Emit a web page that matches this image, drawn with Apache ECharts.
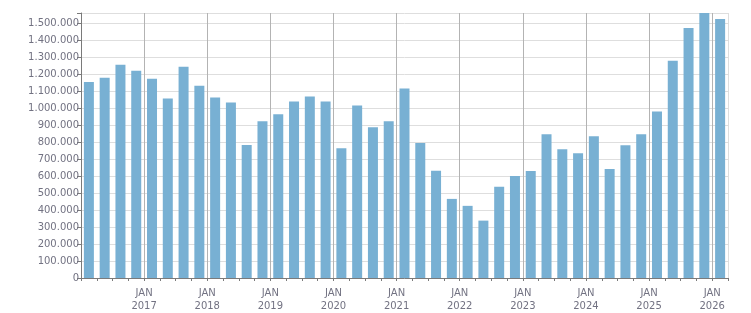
<!DOCTYPE html>
<html>
<head>
<meta charset="utf-8">
<title></title>
<script src="https://cdn.jsdelivr.net/npm/echarts@6/dist/echarts.min.js"></script>
<style>
	html, body { margin: 0; padding: 0; background: #fff; }
	#chart { width: 751px; height: 313px; }
</style>
</head>
<body>
<div id="chart"></div>
<script type="text/javascript">
	// quarters, 2016 Q1 .. 2026 Q1
	var quarters = [
		'2016Q1','2016Q2','2016Q3','2016Q4',
		'2017Q1','2017Q2','2017Q3','2017Q4',
		'2018Q1','2018Q2','2018Q3','2018Q4',
		'2019Q1','2019Q2','2019Q3','2019Q4',
		'2020Q1','2020Q2','2020Q3','2020Q4',
		'2021Q1','2021Q2','2021Q3','2021Q4',
		'2022Q1','2022Q2','2022Q3','2022Q4',
		'2023Q1','2023Q2','2023Q3','2023Q4',
		'2024Q1','2024Q2','2024Q3','2024Q4',
		'2025Q1','2025Q2','2025Q3','2025Q4',
		'2026Q1'
	];
	var values = [
		1155000, 1180000, 1256000, 1221000,
		1174000, 1057000, 1245000, 1133000,
		1063000, 1034000, 783000, 923000,
		964000, 1040000, 1069000, 1040000,
		765000, 1016000, 888000, 923000,
		1116000, 795000, 632000, 466000,
		425000, 338000, 537000, 601000,
		630000, 847000, 759000, 735000,
		835000, 642000, 782000, 847000,
		981000, 1280000, 1473000, 1561000,
		1525000
	];
	var firstYear = 2016;
	var monthLabel = 'JAN';

	var textColor = '#727282';
	var font = 'DejaVu Sans';

	function fmtNum(v){
		return String(v).replace(/\B(?=(\d{3})+(?!\d))/g, '.');
	}

	// vertical year lines: dark, last one (right edge) light
	var vLineColors = [];
	for (var i = 0; i < 11; i++) vLineColors.push('#b3b3b3');
	vLineColors.push('#dedede');

	var myChart = echarts.init(document.getElementById('chart'), null, {renderer: 'canvas'});
	var option = {
		animation: false,
		grid: { left: 81, right: 23, top: 13, bottom: 32, containLabel: false },
		xAxis: [
			{
				type: 'category',
				data: quarters,
				boundaryGap: true,
				axisLine: { lineStyle: { color: '#7a7a7a', width: 1 } },
				axisTick: { show: true, interval: 0, length: 3, lineStyle: { color: '#7a7a7a' } },
				axisLabel: { show: false },
				splitLine: { show: false }
			},
			{
				type: 'value',
				position: 'bottom',
				min: 0,
				max: quarters.length,
				interval: 4,
				axisLine: { show: false },
				axisTick: { show: false },
				axisLabel: {
					show: true,
					color: textColor,
					fontFamily: font,
					fontSize: 10,
					lineHeight: 13,
					margin: 9,
					formatter: function (v) {
						if (v > 0 && v % 4 === 0) return monthLabel + '\n' + (firstYear + v / 4);
						return '';
					}
				},
				splitLine: { show: true, lineStyle: { color: vLineColors, width: 1 } }
			}
		],
		yAxis: {
			type: 'value',
			min: 0,
			max: 'dataMax',
			interval: 100000,
			axisLine: { show: true, lineStyle: { color: '#7a7a7a' } },
			axisTick: { show: true, length: 4, lineStyle: { color: '#7a7a7a' } },
			axisLabel: {
				color: textColor,
				fontFamily: font,
				fontSize: 10,
				margin: 2,
				formatter: function (v) {
					if (v % 100000 !== 0) return '';
					return fmtNum(v);
				}
			},
			splitLine: { show: true, lineStyle: { color: '#dedede', width: 1 } }
		},
		series: [{
			type: 'bar',
			xAxisIndex: 0,
			data: values,
			barWidth: 10,
			itemStyle: { color: '#78b0d3' }
		}]
	};
	myChart.setOption(option);
</script>
</body>
</html>
